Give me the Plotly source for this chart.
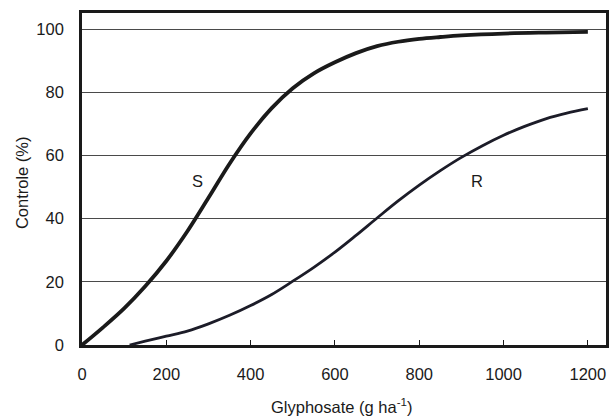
import plotly.graph_objects as go

# S (susceptible) curve
s_x = [0, 50, 100, 150, 200, 250, 300, 350, 400, 450, 500, 550, 600, 650, 700, 750, 800,
       850, 900, 1000, 1100, 1200]
s_y = [0, 5.6, 11.6, 18.6, 26.6, 36.0, 46.6, 57.4, 67.0, 75.0, 81.3, 86.0, 89.5, 92.4, 94.6,
       96.0, 96.9, 97.5, 98.0, 98.6, 98.9, 99.1]

# R (resistant) curve
r_x = [113, 150, 200, 250, 300, 350, 400, 450, 500, 550, 600, 650, 700, 750, 800, 850, 900, 950,
       1000, 1050, 1100, 1150, 1200]
r_y = [0, 1.2, 2.8, 4.4, 6.7, 9.4, 12.5, 16.0, 20.2, 24.6, 29.4, 34.7, 40.2, 45.6, 50.6, 55.2,
       59.4, 63.1, 66.4, 69.2, 71.6, 73.4, 74.8]

x_ticks = [0, 200, 400, 600, 800, 1000, 1200]
y_ticks = [0, 20, 40, 60, 80, 100]

labels = [("S", 275, 52), ("R", 937, 52)]

FONT = "Arial, Liberation Sans, sans-serif"
INK = "#1a1a1a"

fig = go.Figure()
fig.add_trace(go.Scatter(x=s_x, y=s_y, mode="lines",
                         line=dict(color=INK, width=3.8, shape="spline", smoothing=1.0),
                         showlegend=False, hoverinfo="skip"))
fig.add_trace(go.Scatter(x=r_x, y=r_y, mode="lines",
                         line=dict(color="#1c1c28", width=2.8, shape="spline", smoothing=1.0),
                         showlegend=False, hoverinfo="skip"))

for t, lx, ly in labels:
    fig.add_annotation(x=lx, y=ly, text=t, showarrow=False,
                       font=dict(family=FONT, size=16.5, color=INK))

# axis titles
fig.add_annotation(xref="paper", yref="paper", x=0.495, y=-0.185, text="Glyphosate (g ha<sup>-1</sup>)",
                   showarrow=False, xanchor="center", yanchor="middle",
                   font=dict(family=FONT, size=16.5, color=INK))
fig.add_annotation(xref="paper", yref="paper", x=-0.113, y=0.49, text="Controle (%)", textangle=-90,
                   showarrow=False, xanchor="center", yanchor="middle",
                   font=dict(family=FONT, size=16.5, color=INK))

fig.update_layout(
    width=609, height=417,
    margin=dict(l=82, r=3, t=13, b=72, autoexpand=False),
    paper_bgcolor="white", plot_bgcolor="white",
    font=dict(family=FONT, size=16.5, color=INK),
)
fig.update_xaxes(range=[0, 1243], tickvals=x_ticks, ticks="inside", ticklen=5, tickcolor=INK,
                 tickwidth=1, showgrid=False, zeroline=False, automargin=False,
                 showline=True, linecolor=INK, linewidth=2.6, mirror=True,
                 ticklabelstandoff=12, tickfont=dict(size=16.5, family=FONT, color=INK))
fig.update_yaxes(range=[0, 105.1], tickvals=y_ticks, ticks="", showgrid=True, gridcolor="#4a4a4a",
                 gridwidth=1, zeroline=False, automargin=False,
                 showline=True, linecolor=INK, linewidth=2.6, mirror=True,
                 ticklabelstandoff=12, tickfont=dict(size=16.5, family=FONT, color=INK))

fig.write_html("out.html", config={"displayModeBar": False},
               post_script="document.body.style.margin='0';document.body.style.padding='0';document.body.style.overflow='hidden';")
